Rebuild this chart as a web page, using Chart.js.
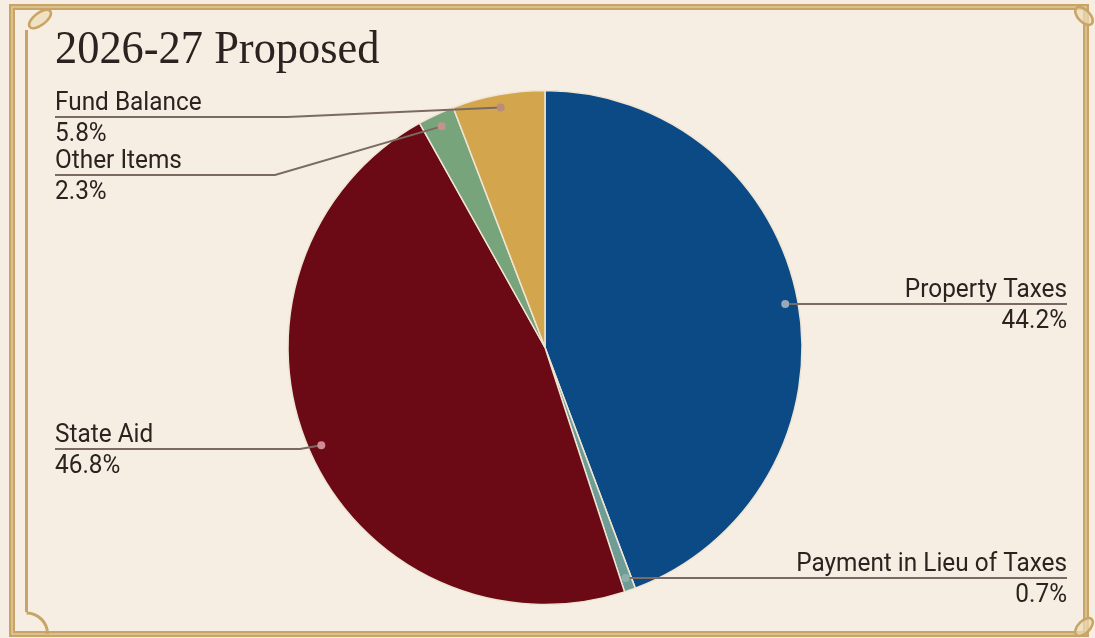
<!DOCTYPE html>
<html>
<head>
<meta charset="utf-8">
<script src="https://cdn.jsdelivr.net/npm/chart.js@4/dist/chart.umd.min.js"></script>
<style>
    html, body { margin: 0; padding: 0; background: #f6eee3; }
    #budgetPie { display: block; }
</style>
</head>
<body>
<canvas id="budgetPie" width="1095" height="638"></canvas>
<script>
// slices, clockwise from 12 o'clock
const categories = ['Property Taxes', 'Payment in Lieu of Taxes', 'State Aid', 'Other Items', 'Fund Balance'];
const shares = [44.2, 0.7, 46.8, 2.3, 5.8];
const shareLabels = ['44.2%', '0.7%', '46.8%', '2.3%', '5.8%'];
const sliceColors = ['#0c4a86', '#6f9d96', '#6b0a15', '#78a47b', '#d3a54d'];
const chartTitle = '2026-27 Proposed';

// where each callout sits (underline y, knee x, side of the picture, dot tint)
const callouts = [
    { side: 'right', lineY: 304, knee: 830, dot: '#9aa9ba' },
    { side: 'right', lineY: 578, knee: 700, dot: '#8fb0aa' },
    { side: 'left', lineY: 449, knee: 300, dot: '#d08a95' },
    { side: 'left', lineY: 175, knee: 275, dot: '#c4948c' },
    { side: 'left', lineY: 117, knee: 287, dot: '#b98c7c' }
];

const GOLD = '#c8a466';
const GOLD_LIGHT = '#ecdcb4';
const INK = '#2b2320';
const LEADER = '#7a6a62';

function drawFrame(ctx) {
    ctx.save();
    ctx.fillStyle = '#f6eee3';
    ctx.fillRect(0, 0, 1095, 638);

    // outer band
    ctx.strokeStyle = GOLD;
    ctx.lineWidth = 6;
    ctx.strokeRect(12, 7, 1074, 627);
    ctx.strokeStyle = GOLD_LIGHT;
    ctx.lineWidth = 1;
    ctx.strokeRect(12, 7, 1074, 627);

    // inner rule on the left
    ctx.strokeStyle = GOLD;
    ctx.lineWidth = 3;
    ctx.beginPath();
    ctx.moveTo(26.5, 30);
    ctx.lineTo(26.5, 612);
    ctx.stroke();

    // corner loops
    ctx.beginPath();
    ctx.arc(26.5, 634, 21, -Math.PI / 2, 0);
    ctx.stroke();
    ctx.lineWidth = 2.5;
    ctx.fillStyle = 'rgba(236, 220, 180, 0.7)';
    ctx.beginPath();
    ctx.ellipse(40, 19, 13, 6, -0.65, 0, Math.PI * 2);
    ctx.fill();
    ctx.stroke();
    ctx.beginPath();
    ctx.ellipse(1084, 16, 11, 6, 0.8, 0, Math.PI * 2);
    ctx.fill();
    ctx.stroke();
    ctx.beginPath();
    ctx.ellipse(1084, 627, 11, 6, -0.8, 0, Math.PI * 2);
    ctx.fill();
    ctx.stroke();
    ctx.restore();
}

function drawText(ctx, text, x, y, align, scaleX) {
    ctx.save();
    ctx.translate(x, y);
    ctx.scale(scaleX, 1);
    ctx.textAlign = align;
    ctx.fillText(text, 0, 0);
    ctx.restore();
}

const framePlugin = {
    id: 'frame',
    beforeDraw(chart) {
        const ctx = chart.ctx;
        drawFrame(ctx);
        ctx.save();
        ctx.fillStyle = INK;
        ctx.font = '47px "Liberation Serif"';
        ctx.textBaseline = 'alphabetic';
        drawText(ctx, chartTitle, 55, 63, 'left', 0.945);
        ctx.restore();
    }
};

const calloutPlugin = {
    id: 'callouts',
    afterDatasetsDraw(chart) {
        const ctx = chart.ctx;
        const arcs = chart.getDatasetMeta(0).data;
        ctx.save();
        ctx.font = '25px Roboto';
        ctx.textBaseline = 'alphabetic';
        arcs.forEach(function (arc, i) {
            const p = arc.getProps(['x', 'y', 'startAngle', 'endAngle', 'outerRadius'], true);
            const mid = (p.startAngle + p.endAngle) / 2;
            const dotX = p.x + Math.cos(mid) * p.outerRadius * 0.95;
            const dotY = p.y + Math.sin(mid) * p.outerRadius * 0.95;
            const c = callouts[i];
            const endX = c.side === 'left' ? 55 : 1067;

            ctx.strokeStyle = LEADER;
            ctx.lineWidth = 2;
            ctx.beginPath();
            ctx.moveTo(dotX, dotY);
            ctx.lineTo(c.knee, c.lineY);
            ctx.lineTo(endX, c.lineY);
            ctx.stroke();

            ctx.fillStyle = c.dot;
            ctx.beginPath();
            ctx.arc(dotX, dotY, 4, 0, Math.PI * 2);
            ctx.fill();

            ctx.fillStyle = INK;
            const align = c.side === 'left' ? 'left' : 'right';
            drawText(ctx, categories[i], endX, c.lineY - 7, align, 0.975);
            drawText(ctx, shareLabels[i], endX, c.lineY + 24, align, 0.975);
        });
        ctx.restore();
    }
};

new Chart(document.getElementById('budgetPie').getContext('2d'), {
    type: 'pie',
    data: {
        labels: categories,
        datasets: [{
            data: shares,
            backgroundColor: sliceColors,
            borderColor: '#efe5d4',
            borderWidth: 1.5
        }]
    },
    options: {
        responsive: false,
        animation: false,
        radius: 257,
        layout: { padding: { top: 57, right: 5, left: 0, bottom: 0 } },
        plugins: {
            legend: { display: false },
            tooltip: { enabled: false },
            title: { display: false }
        }
    },
    plugins: [framePlugin, calloutPlugin]
});
</script>
</body>
</html>
